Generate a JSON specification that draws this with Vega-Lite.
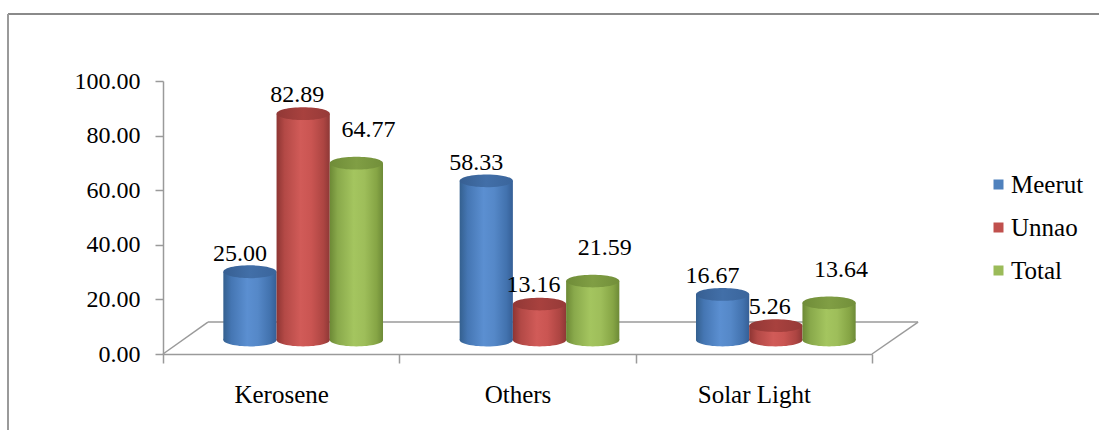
{
  "$schema": "https://vega.github.io/schema/vega-lite/v6.json",
  "width": 1091,
  "height": 416,
  "autosize": {"type": "none"},
  "padding": {"left": 8, "top": 14, "right": 0, "bottom": 0},
  "background": "white",
  "config": {"view": {"stroke": null}, "font": "Liberation Serif"},
  "data": {
    "values": [
      {"category": "Kerosene", "series": "Meerut", "value": 25.00},
      {"category": "Kerosene", "series": "Unnao", "value": 82.89},
      {"category": "Kerosene", "series": "Total", "value": 64.77},
      {"category": "Others", "series": "Meerut", "value": 58.33},
      {"category": "Others", "series": "Unnao", "value": 13.16},
      {"category": "Others", "series": "Total", "value": 21.59},
      {"category": "Solar Light", "series": "Meerut", "value": 16.67},
      {"category": "Solar Light", "series": "Unnao", "value": 5.26},
      {"category": "Solar Light", "series": "Total", "value": 13.64}
    ]
  },
  "layer": [
    {
      "data": {"values": [{"frame": "chart area"}]},
      "layer": [
        {"mark": {"type": "rule", "color": "#8a8a8a", "strokeWidth": 2}, "encoding": {"y": {"value": 0}}},
        {"mark": {"type": "rule", "color": "#9a9a9a", "strokeWidth": 2}, "encoding": {"x": {"value": 0}}}
      ]
    },
    {
      "mark": {"type": "point", "opacity": 0},
      "encoding": {
        "x": {
          "field": "category",
          "type": "nominal",
          "scale": {"range": [155, 864], "paddingInner": 0, "paddingOuter": 0},
          "axis": {
            "orient": "bottom",
            "offset": -76,
            "title": null,
            "labelAngle": 0,
            "labelFont": "Liberation Serif",
            "labelFontSize": 25,
            "labelColor": "#000000",
            "labelPadding": 19,
            "tickBand": "extent",
            "tickSize": 9,
            "tickColor": "#9a9a9a",
            "tickWidth": 1.5,
            "domainColor": "#9a9a9a",
            "domainWidth": 1.5
          }
        },
        "y": {
          "field": "value",
          "type": "quantitative",
          "scale": {"domain": [0, 100], "range": [340, 67], "nice": false},
          "axis": {
            "orient": "left",
            "offset": -155,
            "title": null,
            "grid": false,
            "values": [0, 20, 40, 60, 80, 100],
            "format": ".2f",
            "labelFont": "Liberation Serif",
            "labelFontSize": 24,
            "labelColor": "#000000",
            "labelPadding": 15,
            "tickSize": 8,
            "tickColor": "#9a9a9a",
            "tickWidth": 1.5,
            "domainColor": "#9a9a9a",
            "domainWidth": 1.5
          }
        }
      }
    },
    {
      "data": {"values": [{"plane": "floor"}]},
      "encoding": {
        "x": {"datum": 0, "type": "quantitative", "scale": {"domain": [0, 3], "range": [155, 864], "nice": false, "zero": false}, "axis": null},
        "y": {"datum": 0, "type": "quantitative", "scale": {"domain": [0, 100], "range": [340, 67], "nice": false}, "axis": null}
      },
      "layer": [
        {
          "mark": {"type": "rule", "color": "#9a9a9a", "strokeWidth": 1.5},
          "encoding": {"x": {"datum": 0}, "y": {"datum": 0}, "x2": {"datum": 0.19}, "y2": {"datum": 11.7}}
        },
        {
          "mark": {"type": "rule", "color": "#9a9a9a", "strokeWidth": 1.5},
          "encoding": {"x": {"datum": 0.19}, "y": {"datum": 11.7}, "x2": {"datum": 3.195}, "y2": {"datum": 11.7}}
        },
        {
          "mark": {"type": "rule", "color": "#9a9a9a", "strokeWidth": 1.5},
          "encoding": {"x": {"datum": 3}, "y": {"datum": 0}, "x2": {"datum": 3.195}, "y2": {"datum": 11.7}}
        }
      ]
    },
    {
      "encoding": {
        "x": {
          "field": "category",
          "type": "nominal",
          "scale": {"range": [177, 886], "paddingInner": 0, "paddingOuter": 0},
          "axis": null
        },
        "xOffset": {
          "field": "series",
          "type": "nominal",
          "scale": {"domain": ["Meerut", "Unnao", "Total"], "paddingInner": 0, "paddingOuter": 0.72}
        },
        "y": {
          "field": "value",
          "type": "quantitative",
          "scale": {"domain": [0, 100], "range": [326, 53], "nice": false},
          "axis": null
        }
      },
      "layer": [
        {
          "mark": {"type": "square", "opacity": 0, "size": 0},
          "encoding": {
            "color": {
              "field": "series",
              "type": "nominal",
              "scale": {"domain": ["Meerut", "Unnao", "Total"], "range": ["#4F81BD", "#C0504D", "#9BBB59"]},
              "legend": {
                "title": null,
                "orient": "none",
                "legendX": 978,
                "legendY": 158,
                "padding": 0,
                "symbolType": "square",
                "symbolSize": 100,
                "symbolOpacity": 1,
                "symbolStrokeWidth": 0,
                "labelFont": "Liberation Serif",
                "labelFontSize": 25,
                "labelColor": "#000000",
                "labelOffset": 0,
                "rowPadding": 17
              }
            }
          }
        },
        {
          "transform": [{"filter": "datum.series === 'Meerut'"}],
          "layer": [
            {
              "mark": {"type": "point", "shape": "M-1,0A1,0.24,0,1,1,1,0A1,0.24,0,1,1,-1,0Z", "filled": true, "size": 2830, "opacity": 1, "strokeWidth": 0,
                "fill": {"gradient": "linear", "x1": 0, "y1": 0, "x2": 1, "y2": 0, "stops": [{"offset": 0, "color": "#34608f"}, {"offset": 0.15, "color": "#4576b3"}, {"offset": 0.45, "color": "#5b8fd1"}, {"offset": 0.65, "color": "#5588c8"}, {"offset": 0.88, "color": "#4272ae"}, {"offset": 1, "color": "#355f96"}]}},
              "encoding": {"y": {"datum": 0, "type": "quantitative", "scale": {"domain": [0, 100], "range": [326, 53], "nice": false}, "axis": null}}
            },
            {
              "mark": {"type": "bar",
                "fill": {"gradient": "linear", "x1": 0, "y1": 0, "x2": 1, "y2": 0, "stops": [{"offset": 0, "color": "#34608f"}, {"offset": 0.15, "color": "#4576b3"}, {"offset": 0.45, "color": "#5b8fd1"}, {"offset": 0.65, "color": "#5588c8"}, {"offset": 0.88, "color": "#4272ae"}, {"offset": 1, "color": "#355f96"}]}}
            },
            {
              "mark": {"type": "point", "shape": "M-1,0A1,0.24,0,1,1,1,0A1,0.24,0,1,1,-1,0Z", "filled": true, "size": 2830, "opacity": 1, "strokeWidth": 0,
                "fill": {"gradient": "linear", "x1": 0, "y1": 0, "x2": 1, "y2": 0, "stops": [{"offset": 0, "color": "#375f92"}, {"offset": 0.5, "color": "#426fa8"}, {"offset": 1, "color": "#3a659c"}]}}
            },
            {
              "mark": {"type": "text", "font": "Liberation Serif", "fontSize": 24, "color": "#000000", "baseline": "middle", "dx": -10, "dy": -18},
              "encoding": {"text": {"field": "value", "type": "quantitative", "format": ".2f"}}
            }
          ]
        },
        {
          "transform": [{"filter": "datum.series === 'Unnao'"}],
          "layer": [
            {
              "mark": {"type": "point", "shape": "M-1,0A1,0.24,0,1,1,1,0A1,0.24,0,1,1,-1,0Z", "filled": true, "size": 2830, "opacity": 1, "strokeWidth": 0,
                "fill": {"gradient": "linear", "x1": 0, "y1": 0, "x2": 1, "y2": 0, "stops": [{"offset": 0, "color": "#8e3533"}, {"offset": 0.15, "color": "#b34946"}, {"offset": 0.45, "color": "#d15b58"}, {"offset": 0.65, "color": "#ca5552"}, {"offset": 0.88, "color": "#ad4542"}, {"offset": 1, "color": "#8e3836"}]}},
              "encoding": {"y": {"datum": 0, "type": "quantitative", "scale": {"domain": [0, 100], "range": [326, 53], "nice": false}, "axis": null}}
            },
            {
              "mark": {"type": "bar",
                "fill": {"gradient": "linear", "x1": 0, "y1": 0, "x2": 1, "y2": 0, "stops": [{"offset": 0, "color": "#8e3533"}, {"offset": 0.15, "color": "#b34946"}, {"offset": 0.45, "color": "#d15b58"}, {"offset": 0.65, "color": "#ca5552"}, {"offset": 0.88, "color": "#ad4542"}, {"offset": 1, "color": "#8e3836"}]}}
            },
            {
              "mark": {"type": "point", "shape": "M-1,0A1,0.24,0,1,1,1,0A1,0.24,0,1,1,-1,0Z", "filled": true, "size": 2830, "opacity": 1, "strokeWidth": 0,
                "fill": {"gradient": "linear", "x1": 0, "y1": 0, "x2": 1, "y2": 0, "stops": [{"offset": 0, "color": "#913836"}, {"offset": 0.5, "color": "#a8413e"}, {"offset": 1, "color": "#963a38"}]}}
            },
            {
              "mark": {"type": "text", "font": "Liberation Serif", "fontSize": 24, "color": "#000000", "baseline": "middle", "dx": -6, "dy": -19},
              "encoding": {"text": {"field": "value", "type": "quantitative", "format": ".2f"}}
            }
          ]
        },
        {
          "transform": [{"filter": "datum.series === 'Total'"}],
          "layer": [
            {
              "mark": {"type": "point", "shape": "M-1,0A1,0.24,0,1,1,1,0A1,0.24,0,1,1,-1,0Z", "filled": true, "size": 2830, "opacity": 1, "strokeWidth": 0,
                "fill": {"gradient": "linear", "x1": 0, "y1": 0, "x2": 1, "y2": 0, "stops": [{"offset": 0, "color": "#6c8935"}, {"offset": 0.15, "color": "#89a94b"}, {"offset": 0.45, "color": "#a4c55f"}, {"offset": 0.65, "color": "#9ebe5a"}, {"offset": 0.88, "color": "#86a545"}, {"offset": 1, "color": "#6d8a37"}]}},
              "encoding": {"y": {"datum": 0, "type": "quantitative", "scale": {"domain": [0, 100], "range": [326, 53], "nice": false}, "axis": null}}
            },
            {
              "mark": {"type": "bar",
                "fill": {"gradient": "linear", "x1": 0, "y1": 0, "x2": 1, "y2": 0, "stops": [{"offset": 0, "color": "#6c8935"}, {"offset": 0.15, "color": "#89a94b"}, {"offset": 0.45, "color": "#a4c55f"}, {"offset": 0.65, "color": "#9ebe5a"}, {"offset": 0.88, "color": "#86a545"}, {"offset": 1, "color": "#6d8a37"}]}}
            },
            {
              "mark": {"type": "point", "shape": "M-1,0A1,0.24,0,1,1,1,0A1,0.24,0,1,1,-1,0Z", "filled": true, "size": 2830, "opacity": 1, "strokeWidth": 0,
                "fill": {"gradient": "linear", "x1": 0, "y1": 0, "x2": 1, "y2": 0, "stops": [{"offset": 0, "color": "#6f8c38"}, {"offset": 0.5, "color": "#809e44"}, {"offset": 1, "color": "#728f3a"}]}}
            },
            {
              "mark": {"type": "text", "font": "Liberation Serif", "fontSize": 24, "color": "#000000", "baseline": "middle", "dx": 12, "dy": -33},
              "encoding": {"text": {"field": "value", "type": "quantitative", "format": ".2f"}}
            }
          ]
        }
      ]
    }
  ],
  "resolve": {"scale": {"x": "independent", "y": "independent"}}
}
